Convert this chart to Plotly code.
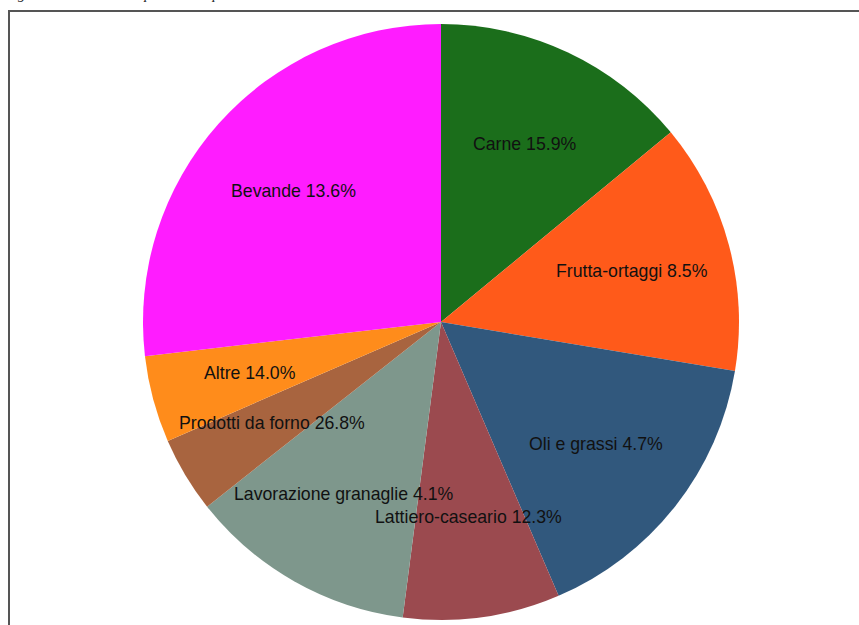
import math
import plotly.graph_objects as go

# Sectors, clockwise from 12 o'clock
sectors = ["Carne", "Frutta-ortaggi", "Oli e grassi", "Lattiero-caseario",
           "Lavorazione granaglie", "Prodotti da forno", "Altre", "Bevande"]
# Slice sizes (%)
shares = [14.0, 13.6, 15.9, 8.5, 12.3, 4.1, 4.7, 26.8]
# Percentages printed in each slice label
label_pct = [15.9, 8.5, 4.7, 12.3, 4.1, 26.8, 14.0, 13.6]
colors = ["#1b6e1b", "#ff5a1a", "#31587d", "#9b4a4f",
          "#7e978c", "#a8643f", "#ff8c1b", "#ff1cff"]

W, H = 859, 625
cx, cy, R = 441, 322, 298  # pie centre and radius in pixels

fig = go.Figure(go.Pie(
    labels=sectors,
    values=shares,
    sort=False,
    direction="clockwise",
    rotation=0,
    marker=dict(colors=colors, line=dict(width=0)),
    textinfo="none",
    hoverinfo="label+percent",
    showlegend=False,
    domain=dict(x=[(cx - R) / W, (cx + R) / W],
                y=[1 - (cy + R) / H, 1 - (cy - R) / H]),
))

# Labels placed at two thirds of the radius, on each slice's mid-angle
total = sum(shares)
acc = 0.0
annotations = []
for name, v, p in zip(sectors, shares, label_pct):
    mid = (acc + v / 2) / total * 2 * math.pi
    acc += v
    px = cx + 0.662 * R * math.sin(mid)
    py = cy - 0.662 * R * math.cos(mid)
    annotations.append(dict(
        x=px / W, y=1 - py / H, xref="paper", yref="paper",
        text=f"{name} {p:.1f}%", showarrow=False,
        xanchor="center", yanchor="middle",
        font=dict(family="Liberation Sans, Arial, sans-serif", size=17.7, color="#111111"),
    ))

# Figure caption above the frame
annotations.append(dict(
    x=2 / W, y=1, xref="paper", yref="paper", xanchor="left", yanchor="bottom",
    yshift=-4, showarrow=False,
    text="<i>Figura 5 – Valore della produzione per settore</i>",
    font=dict(family="Liberation Serif, Times New Roman, serif", size=14.5, color="#222222"),
))

fig.update_layout(
    width=W, height=H,
    margin=dict(l=0, r=0, t=0, b=0),
    paper_bgcolor="white",
    plot_bgcolor="white",
    annotations=annotations,
    shapes=[dict(type="rect", xref="paper", yref="paper",
                 x0=9 / W, x1=1.05, y0=-0.05, y1=1 - 11 / H,
                 line=dict(color="#555555", width=2), layer="below")],
)

fig.write_html("out.html")
